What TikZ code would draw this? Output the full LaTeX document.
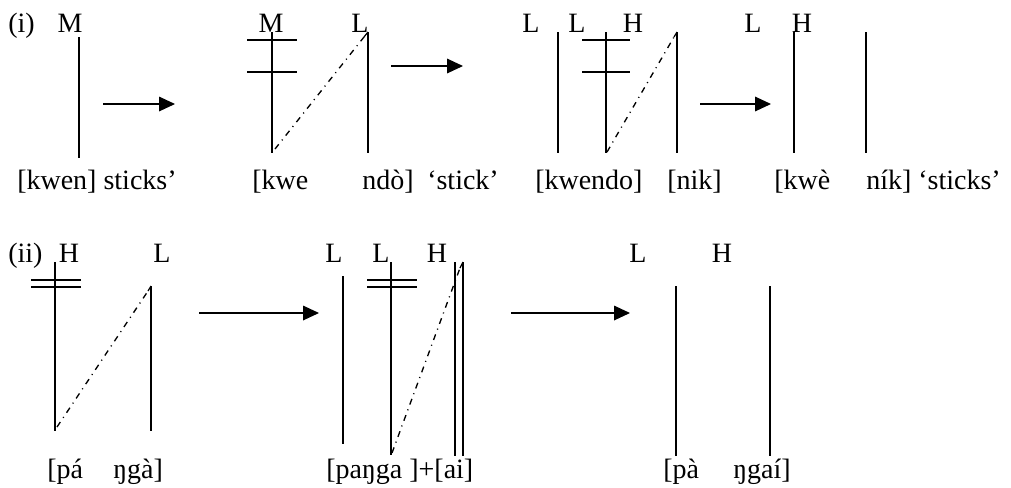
\documentclass[tikz,border=0pt]{standalone}
\usepackage{fontspec}
\setmainfont{Liberation Serif}
\usetikzlibrary{arrows.meta}
\begin{document}
\begin{tikzpicture}[x=0.75pt,y=-0.75pt,
  txt/.style={anchor=base west,inner sep=0pt,font=\fontsize{21}{24}\selectfont},
  tone/.style={anchor=base,inner sep=0pt,font=\fontsize{21}{24}\selectfont},
  assoc/.style={line width=0.9pt},
  bar/.style={line width=0.9pt},
  delink/.style={line width=1pt,dash pattern=on 4.5pt off 3.8pt on 0.8pt off 3.8pt},
  rulearrow/.style={line width=0.9pt,-{Triangle[length=12pt,width=11pt]}}]
\useasboundingbox (0,0) rectangle (1011,487);
% ---------- panel (i) ----------
\node[txt] (lbli) at (8,32) {(i)};
\node[tone] (tM1) at (70,32) {M};
\node[tone] (tM2) at (271,32) {M};
\node[tone] (tL2) at (360,32) {L};
\node[tone] (tL3a) at (531,32) {L};
\node[tone] (tL3b) at (577,32) {L};
\node[tone] (tH3) at (633,32) {H};
\node[tone] (tL4) at (753,32) {L};
\node[tone] (tH4) at (802,32) {H};
\node[txt] (s1) at (17,189) {[kwen] sticks’};
\node[txt] (s2a) at (252,189) {[kwe};
\node[txt] (s2b) at (362,189) {ndò]};
\node[txt] (s2c) at (427,189) {‘stick’};
\node[txt] (s3a) at (535,189) {[kwendo]};
\node[txt] (s3b) at (667,189) {[nik]};
\node[txt] (s4a) at (774,189) {[kwè};
\node[txt] (s4b) at (866,189) {ník] ‘sticks’};
% association lines
\coordinate (a1t) at (79,37); \coordinate (a1b) at (79,158);
\draw[assoc] (a1t) -- (a1b);
\coordinate (b1t) at (272,32); \coordinate (b1b) at (272,153);
\coordinate (b2t) at (368,32); \coordinate (b2b) at (368,153);
\draw[assoc] (b1t) -- (b1b);
\draw[assoc] (b2t) -- (b2b);
\draw[bar] (247,40) -- (297,40);
\draw[bar] (247,72) -- (297,72);
\coordinate (b1d) at (275,149); \coordinate (b2d) at (364,37);
\draw[delink] (b1d) -- (b2d);
\draw[assoc] (b2d) -- (b2t);
\coordinate (c1t) at (558,32); \coordinate (c1b) at (558,153);
\coordinate (c2t) at (606,32); \coordinate (c2b) at (606,153);
\coordinate (c3t) at (677,32); \coordinate (c3b) at (677,153);
\draw[assoc] (c1t) -- (c1b);
\draw[assoc] (c2t) -- (c2b);
\draw[assoc] (c3t) -- (c3b);
\draw[bar] (582,40) -- (630,40);
\draw[bar] (582,72) -- (630,72);
\coordinate (c2d) at (607,152); \coordinate (c3d) at (674,37);
\draw[delink] (c2d) -- (c3d);
\draw[assoc] (c3d) -- (c3t);
\coordinate (d1t) at (794,32); \coordinate (d1b) at (794,153);
\coordinate (d2t) at (866,32); \coordinate (d2b) at (866,153);
\draw[assoc] (d1t) -- (d1b);
\draw[assoc] (d2t) -- (d2b);
% arrows
\coordinate (r1s) at (103,104); \coordinate (r1e) at (175,104);
\coordinate (r2s) at (391,66); \coordinate (r2e) at (463,66);
\coordinate (r3s) at (700,104); \coordinate (r3e) at (771,104);
\draw[rulearrow] (r1s) -- (r1e);
\draw[rulearrow] (r2s) -- (r2e);
\draw[rulearrow] (r3s) -- (r3e);
% ---------- panel (ii) ----------
\node[txt] (lblii) at (8,262) {(ii)};
\node[tone] (uH1) at (69,262) {H};
\node[tone] (uL1) at (162,262) {L};
\node[tone] (uL2a) at (334,262) {L};
\node[tone] (uL2b) at (381,262) {L};
\node[tone] (uH2) at (437,262) {H};
\node[tone] (uL3) at (638,262) {L};
\node[tone] (uH3) at (722,262) {H};
\node[txt] (w1a) at (47,478) {[pá};
\node[txt] (w1b) at (113,478) {ŋgà]};
\node[txt] (w2) at (326,478) {[paŋga ]+[ai]};
\node[txt] (w3a) at (663,478) {[pà};
\node[txt] (w3b) at (733,478) {ŋgaí]};
\coordinate (e1t) at (55,262); \coordinate (e1b) at (55,431);
\coordinate (e2t) at (151,286); \coordinate (e2b) at (151,431);
\draw[assoc] (e1t) -- (e1b);
\draw[assoc] (e2t) -- (e2b);
\draw[bar] (31,280) -- (81,280);
\draw[bar] (31,287) -- (81,287);
\coordinate (e1d) at (57,427); \coordinate (e2d) at (148,291);
\draw[delink] (e1d) -- (e2d);
\draw[assoc] (e2d) -- (e2t);
\coordinate (f1t) at (343,276); \coordinate (f1b) at (343,444);
\coordinate (f2t) at (391,262); \coordinate (f2b) at (391,455);
\coordinate (f3t) at (455,262); \coordinate (f3b) at (455,456);
\coordinate (f4t) at (463,262); \coordinate (f4b) at (463,456);
\draw[assoc] (f1t) -- (f1b);
\draw[assoc] (f2t) -- (f2b);
\draw[assoc] (f3t) -- (f3b);
\draw[assoc] (f4t) -- (f4b);
\draw[bar] (367,280) -- (417,280);
\draw[bar] (367,287) -- (417,287);
\coordinate (f2d) at (392,453); \coordinate (f4d) at (460,268);
\draw[delink] (f2d) -- (f4d);
\draw[assoc] (f4d) -- (f4t);
\coordinate (g1t) at (676,286); \coordinate (g1b) at (676,456);
\coordinate (g2t) at (770,286); \coordinate (g2b) at (770,456);
\draw[assoc] (g1t) -- (g1b);
\draw[assoc] (g2t) -- (g2b);
\coordinate (r4s) at (199,313); \coordinate (r4e) at (319,313);
\coordinate (r5s) at (511,313); \coordinate (r5e) at (630,313);
\draw[rulearrow] (r4s) -- (r4e);
\draw[rulearrow] (r5s) -- (r5e);
\end{tikzpicture}
\end{document}
